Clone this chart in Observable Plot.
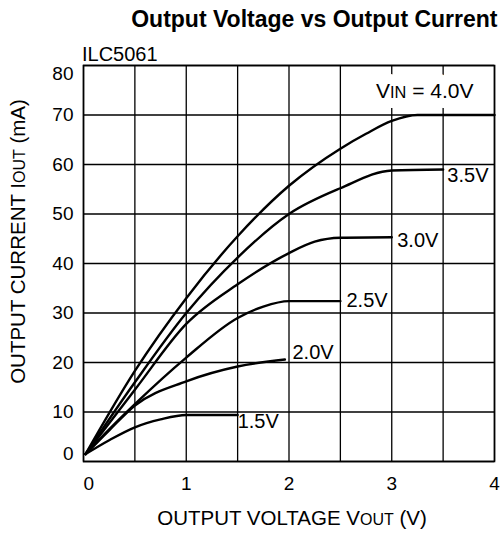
<!DOCTYPE html>
<html><head><meta charset="utf-8">
<script src="https://cdn.jsdelivr.net/npm/d3@7"></script>
<script src="https://cdn.jsdelivr.net/npm/@observablehq/plot@0.6"></script>
<style>body{margin:0;background:#fff}</style>
</head><body>
<div id="chart"></div>
<script>
const title = "Output Voltage vs Output Current";
const partName = "ILC5061";
const xLabel = "OUTPUT VOLTAGE V_{OUT} (V)";
const yLabel = "OUTPUT CURRENT I_{OUT} (mA)";
const vinLabel = "V_{IN} = 4.0V";
const xTicks = [0, 1, 2, 3, 4];
const yTicks = [0, 10, 20, 30, 40, 50, 60, 70, 80];
const xGrid = [0, 0.5, 1, 1.5, 2, 2.5, 3, 3.5, 4];
const seriesNames = ["1.5V", "2.0V", "2.5V", "3.0V", "3.5V", "4.0V"];

const v15x = [0.02, 0.25, 0.5, 0.75, 1.0, 1.5];
const v15y = [1.5, 4.3, 6.9, 8.5, 9.4, 9.4];
const v20x = [0.02, 0.25, 0.5, 1.0, 1.5, 1.96];
const v20y = [1.5, 6.3, 11.3, 16.2, 19.2, 20.6];
const v25x = [0.02, 0.25, 0.5, 1.0, 1.5, 1.75, 2.0, 2.5];
const v25y = [1.5, 6.5, 11.6, 21.0, 29.0, 31.3, 32.4, 32.4];
const v30x = [0.02, 0.5, 1.0, 1.5, 2.0, 2.25, 2.5, 3.0];
const v30y = [1.5, 14.5, 27.8, 35.8, 42.1, 44.4, 45.2, 45.3];
const v35x = [0.02, 0.5, 1.0, 1.5, 2.0, 2.5, 3.0, 3.5];
const v35y = [1.5, 16.0, 30.0, 41.2, 50.0, 55.2, 58.8, 59.0];
const v40x = [0.02, 0.5, 1.0, 1.5, 2.0, 2.5, 2.75, 3.0, 3.25, 4.0];
const v40y = [1.5, 18.3, 33.0, 45.5, 55.7, 63.2, 66.2, 68.8, 70.0, 70.0];

const seriesX = [v15x, v20x, v25x, v30x, v35x, v40x];
const seriesY = [v15y, v20y, v25y, v30y, v35y, v40y];

const rows = [];
seriesNames.forEach((name, i) => {
  seriesX[i].forEach((x, j) => rows.push({series: name, x, y: seriesY[i][j]}));
});
const ends = seriesNames.map((name, i) => ({
  series: name,
  x: seriesX[i][seriesX[i].length - 1],
  y: seriesY[i][seriesY[i].length - 1]
}));

// label offsets (pixels) relative to the end of each curve
const labelOffsets = {"1.5V": [0, 6.6], "2.0V": [7.6, -6.9], "2.5V": [6.1, -0.5], "3.0V": [5.5, 3.3], "3.5V": [4.2, 6.2]};

const FONT = "'Liberation Sans', Arial, Helvetica, sans-serif";
const ink = "#000";

const curveLabels = seriesNames.filter(s => s !== "4.0V").map(s =>
  Plot.text(ends.filter(d => d.series === s), {
    x: "x", y: "y", text: "series", textAnchor: "start", lineAnchor: "middle",
    dx: labelOffsets[s][0], dy: labelOffsets[s][1], fontSize: 20, fill: ink
  })
);

const vinEnd = ends.filter(d => d.series === "4.0V");

const svg = Plot.plot({
  width: 503,
  height: 535,
  marginTop: 65,
  marginBottom: 74,
  marginLeft: 83,
  marginRight: 9,
  x: {domain: [0, 4], axis: null},
  y: {domain: [0, 80], axis: null},
  style: {fontFamily: FONT, background: "#fff", color: ink, overflow: "visible"},
  marks: [
    Plot.ruleX(xGrid, {x: d => d, stroke: ink, strokeWidth: 1.3}),
    Plot.ruleY(yTicks, {y: d => d, stroke: ink, strokeWidth: 1.3}),
    Plot.frame({stroke: ink, strokeWidth: 1.6}),
    // white halo behind the V_IN label
    Plot.text(vinEnd, {
      x: "x", y: "y", text: () => vinLabel, textAnchor: "end", lineAnchor: "middle",
      dx: -21, dy: -24, fontSize: 21, fill: "#fff", stroke: "#fff", strokeWidth: 20
    }),
    Plot.text(vinEnd, {
      x: "x", y: "y", text: () => vinLabel, textAnchor: "end", lineAnchor: "middle",
      dx: -21, dy: -24, fontSize: 21, fill: ink
    }),
    Plot.line(rows, {x: "x", y: "y", z: "series", curve: "monotone-x", stroke: ink, strokeWidth: 2.4}),
    ...curveLabels,
    Plot.text(xTicks.filter(d => d !== 0), {x: d => d, frameAnchor: "bottom", lineAnchor: "middle", text: d => String(d), dy: 22.5, fontSize: 19, fill: ink}),
    Plot.text(xTicks.filter(d => d === 0), {x: d => d, frameAnchor: "bottom", lineAnchor: "middle", text: d => String(d), textAnchor: "start", dy: 22.5, fontSize: 19, fill: ink}),
    Plot.text(yTicks.filter(d => d !== 0 && d !== 80), {y: d => d, frameAnchor: "left", lineAnchor: "middle", text: d => String(d), textAnchor: "end", dx: -10, fontSize: 19, fill: ink}),
    Plot.text(yTicks.filter(d => d === 80), {y: d => d, frameAnchor: "left", text: d => String(d), textAnchor: "end", lineAnchor: "top", dx: -10, dy: 0.5, fontSize: 19, fill: ink}),
    Plot.text(yTicks.filter(d => d === 0), {y: d => d, frameAnchor: "left", text: d => String(d), textAnchor: "end", lineAnchor: "bottom", dx: -10, dy: -2, fontSize: 19, fill: ink}),
    Plot.text([xLabel], {frameAnchor: "bottom", lineAnchor: "middle", textAnchor: "middle", text: d => d, dx: 3, dy: 57, fontSize: 20.5, fill: ink}),
    Plot.text([yLabel], {frameAnchor: "left", lineAnchor: "middle", textAnchor: "middle", text: d => d, rotate: -90, dx: -65, dy: -22, fontSize: 20.5, fill: ink}),
    Plot.text([partName], {frameAnchor: "top-left", lineAnchor: "middle", text: d => d, textAnchor: "start", dx: -1.5, dy: -10.5, fontSize: 20, fill: ink}),
    Plot.text([title], {frameAnchor: "top-right", lineAnchor: "middle", text: d => d, textAnchor: "end", dx: 3, dy: -45.5, fontSize: 23, fontWeight: "bold", fill: ink})
  ]
});

// small-caps style subscripts (V_{OUT}, I_{OUT}, V_{IN})
svg.querySelectorAll("text").forEach(t => {
  const s = t.textContent;
  if (!s.includes("_{")) return;
  while (t.firstChild) t.removeChild(t.firstChild);
  s.split(/(_\{[^}]*\})/).forEach(p => {
    if (!p) return;
    const m = p.match(/^_\{(.*)\}$/);
    const ts = document.createElementNS("http://www.w3.org/2000/svg", "tspan");
    ts.textContent = m ? m[1] : p;
    if (m) ts.setAttribute("font-size", "0.78em");
    t.appendChild(ts);
  });
});

document.getElementById("chart").appendChild(svg);
</script>
</body></html>
